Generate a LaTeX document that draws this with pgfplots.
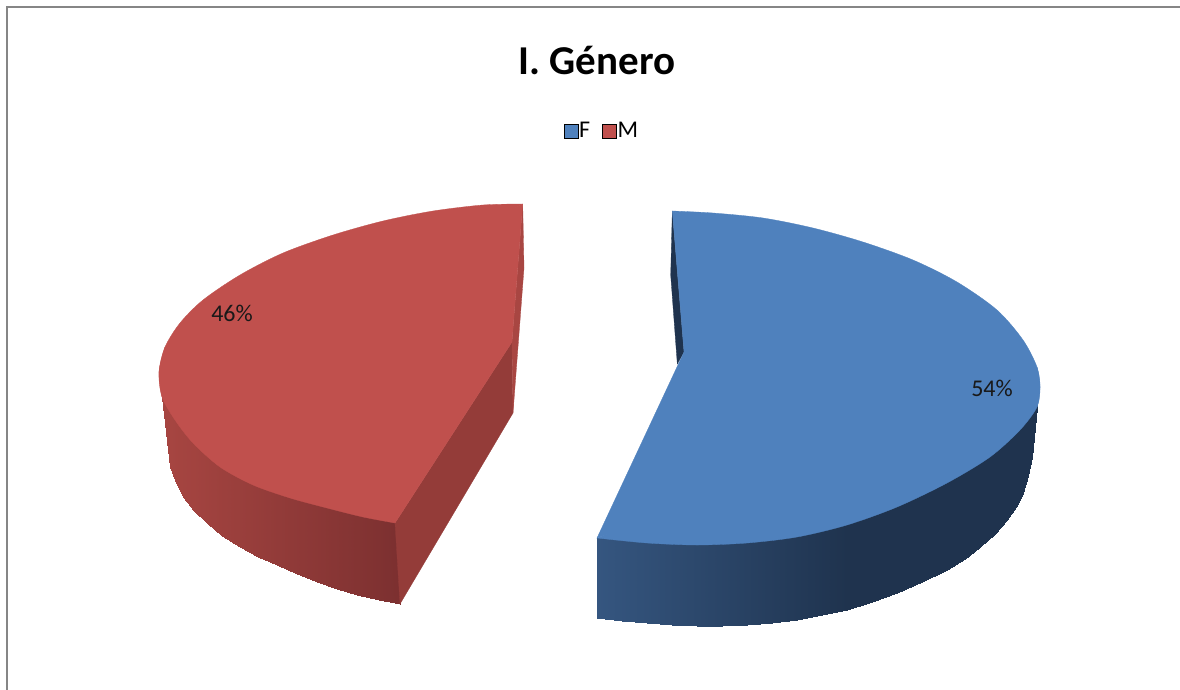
\documentclass[border=0pt]{standalone}
\usepackage{pgfplots}
\pgfplotsset{compat=1.18}
\usepackage{fontspec}
\setmainfont{Carlito}
\definecolor{bluetop}{RGB}{79,129,189}
\definecolor{redtop}{RGB}{192,80,77}
\definecolor{bluedark}{RGB}{31,51,78}
\definecolor{redcut}{RGB}{148,60,57}
\definecolor{redsliver}{RGB}{168,70,66}
\definecolor{framegray}{RGB}{134,134,134}
\pgfplotsset{
  colormap={redwall}{rgb255(0pt)=(166,69,65); rgb255(1pt)=(124,48,48)},
  colormap={bluewall}{rgb255(0pt)=(53,86,128); rgb255(1pt)=(31,51,78)},
}
\begin{document}
\begin{tikzpicture}
\path[use as bounding box] (0,0) rectangle (1180pt,690pt);
\begin{axis}[
  at={(0,0)}, anchor=south west,
  scale only axis, width=1180pt, height=690pt,
  xmin=0, xmax=1180, ymin=0, ymax=690, y dir=reverse,
  hide axis, clip=true,
  point meta min=0, point meta max=1,
  legend style={at={(axis cs:601.5,131)}, anchor=center, draw=none, fill=none,
    font=\fontsize{24}{24}\selectfont, legend columns=2,
    /tikz/every even column/.append style={column sep=11pt},
    inner sep=0pt, nodes={inner sep=1pt}},
  legend image code/.code={\fill[#1] (0pt,-7pt) rectangle (14pt,7pt);},
  every axis plot/.append style={forget plot},
]
% legend
\addlegendimage{fill=bluetop}\addlegendentry{F}
\addlegendimage{fill=redtop}\addlegendentry{M}
% frame
\addplot[framegray, line width=2.6pt] coordinates {(7,690) (7,7) (1180,7)};
% red outer wall
\addplot[patch, patch type=rectangle, shader=interp, colormap name=redwall, point meta=explicit] coordinates {
(162,385)[0] (170,375)[0] (170,467)[0] (162,397)[0]
(170,375)[0] (176,391)[.03] (176,483)[.03] (170,467)[0]
(176,391)[.03] (183,405)[.06] (183,497)[.06] (176,483)[.03]
(183,405)[.06] (194,419)[.1] (194,511)[.1] (183,497)[.06]
(194,419)[.1] (207,431)[.16] (207,523)[.16] (194,511)[.1]
(207,431)[.16] (222,444)[.23] (222,536)[.23] (207,523)[.16]
(222,444)[.23] (240,455)[.3] (240,547)[.3] (222,536)[.23]
(240,455)[.3] (258,465)[.38] (258,557)[.38] (240,547)[.3]
(258,465)[.38] (277,473)[.47] (277,565)[.47] (258,557)[.38]
(277,473)[.47] (297,482)[.55] (297,574)[.55] (277,565)[.47]
(297,482)[.55] (317,490)[.64] (317,582)[.64] (297,574)[.55]
(317,490)[.64] (337,497)[.73] (337,589)[.73] (317,582)[.64]
(337,497)[.73] (357,503)[.81] (357,595)[.81] (337,589)[.73]
(357,503)[.81] (379,508)[.91] (379,600)[.91] (357,595)[.81]
(379,508)[.91] (395,523)[1] (400,604)[1] (379,600)[.91]
};
% red cut faces
\addplot[fill=redcut, draw=redcut, line width=.3pt] coordinates {(512,342) (513,413) (400,604) (395,523)} -- cycle;
\addplot[fill=redsliver, draw=redsliver, line width=.3pt] coordinates {(522.7,204) (524,268) (513,413) (512,342)} -- cycle;
% red top face
\addplot[fill=redtop, draw=redtop, line width=.3pt] coordinates {(522.7,204) (159,372) (395,523) (512,342)} -- cycle;
\addplot[smooth, fill=redtop, draw=redtop, line width=.3pt] coordinates {
(522.7,204) (483,205) (433,211) (383,221) (333,235) (283,253) (240,275) (203,300) (180,323) (165,347) (159,372) (162,397)};
\addplot[smooth, fill=redtop, draw=redtop, line width=.3pt] coordinates {
(165,347) (159,372) (162,397) (175,420) (193,443) (220,467) (253,485) (290,498) (327,508) (363,517) (395,523)};
% blue outer wall
\addplot[patch, patch type=rectangle, shader=interp, colormap name=bluewall, point meta=explicit] coordinates {
(597,538)[0] (622,529)[.1] (622,621)[.1] (597,618)[0]
(622,529)[.1] (647,531)[.2] (647,623)[.2] (622,621)[.1]
(647,531)[.2] (672,533)[.3] (672,625)[.3] (647,623)[.2]
(672,533)[.3] (697,534)[.4] (697,626)[.4] (672,625)[.3]
(697,534)[.4] (722,534)[.5] (722,626)[.5] (697,626)[.4]
(722,534)[.5] (747,533)[.6] (747,625)[.6] (722,626)[.5]
(747,533)[.6] (772,531)[.7] (772,623)[.7] (747,625)[.6]
(772,531)[.7] (797,528)[.8] (797,620)[.8] (772,623)[.7]
(797,528)[.8] (822,523)[.9] (822,615)[.9] (797,620)[.8]
(822,523)[.9] (847,518)[1] (847,610)[1] (822,615)[.9]
(847,518)[1] (872,510)[1] (872,602)[1] (847,610)[1]
(872,510)[1] (897,501)[1] (897,593)[1] (872,602)[1]
(897,501)[1] (922,490)[1] (922,582)[1] (897,593)[1]
(922,490)[1] (947,478)[1] (947,570)[1] (922,582)[1]
(947,478)[1] (965,467)[1] (965,559)[1] (947,570)[1]
(965,467)[1] (980,455)[1] (980,547)[1] (965,559)[1]
(980,455)[1] (995,442)[1] (995,534)[1] (980,547)[1]
(995,442)[1] (1007,425)[1] (1007,520)[1] (995,534)[1]
(1007,425)[1] (1016,410)[1] (1016,507)[1] (1007,520)[1]
(1016,410)[1] (1023,400)[1] (1023,493)[1] (1016,507)[1]
(1023,400)[1] (1028,400)[1] (1028,476)[1] (1023,493)[1]
(1028,400)[1] (1032,400)[1] (1032,457)[1] (1028,476)[1]
(1032,400)[1] (1037,395)[1] (1037,407)[1] (1032,457)[1]
};
% blue sliver
\addplot[fill=bluedark, draw=bluedark, line width=.3pt] coordinates {(672.3,211) (670.7,275) (677.3,364) (684,352)} -- cycle;
% blue top face
\addplot[fill=bluetop, draw=bluetop, line width=.3pt] coordinates {(672.3,211) (1040,387) (597,538) (684,352)} -- cycle;
\addplot[smooth, fill=bluetop, draw=bluetop, line width=.3pt] coordinates {
(672.3,211) (713,213) (763,218) (813,228) (863,242) (913,260) (957,282) (997,310) (1023,340) (1037,367) (1040,387) (1037,407)};
\addplot[smooth, fill=bluetop, draw=bluetop, line width=.3pt] coordinates {
(1037,367) (1040,387) (1037,407) (1020,430) (990,457) (947,483) (897,507) (847,525) (797,537) (747,543) (697,545) (647,543) (597,538)};
% texts
\node[font=\fontsize{41}{41}\selectfont\bfseries, text=black, anchor=center] at (axis cs:597,60) {I. Género};
\node[font=\fontsize{24}{24}\selectfont, text=black!90, anchor=center] at (axis cs:232,313) {46\%};
\node[font=\fontsize{24}{24}\selectfont, text=black!90, anchor=center] at (axis cs:992,388) {54\%};
\end{axis}
\end{tikzpicture}
\end{document}
